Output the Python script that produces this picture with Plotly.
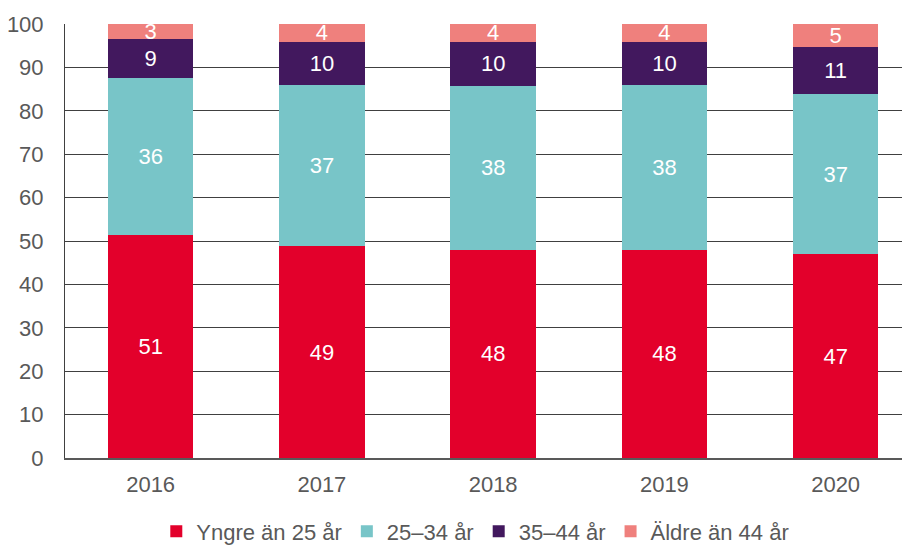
import plotly.graph_objects as go

years = ["2016", "2017", "2018", "2019", "2020"]
series_names = ["Yngre än 25 år", "25–34 år", "35–44 år", "Äldre än 44 år"]
yngre = [51.4, 48.8, 48.0, 48.0, 46.9]
mid1 = [36.2, 37.1, 37.8, 37.9, 37.0]
mid2 = [8.9, 10.0, 10.1, 10.0, 10.9]
aldre = [3.5, 4.1, 4.1, 4.1, 5.2]
labels = [
    [51, 49, 48, 48, 47],
    [36, 37, 38, 38, 37],
    [9, 10, 10, 10, 11],
    [3, 4, 4, 4, 5],
]
colors = ["#E3002B", "#78C5C8", "#42185E", "#EF807D"]
y_ticks = [0, 10, 20, 30, 40, 50, 60, 70, 80, 90, 100]

fig = go.Figure()
for name, vals, lab, col in zip(series_names, [yngre, mid1, mid2, aldre], labels, colors):
    fig.add_trace(go.Bar(
        x=years, y=vals, name=name, marker=dict(color=col, line=dict(width=0)),
        text=[str(v) for v in lab], textposition="inside", insidetextanchor="middle",
        textangle=0, constraintext="none",
        textfont=dict(color="white", size=22, family="Liberation Sans, Arial"),
        hoverinfo="skip",
    ))

fig.update_layout(
    barmode="stack",
    bargap=0.5,
    width=910, height=545,
    margin=dict(l=57, r=0, t=16, b=95, autoexpand=False),
    plot_bgcolor="white", paper_bgcolor="white",
    font=dict(family="Liberation Sans, Arial", size=22, color="#595959"),
    showlegend=True,
    legend=dict(orientation="h", x=0.481, xanchor="center", y=-0.1695, yanchor="middle",
                font=dict(size=22, color="#595959"), itemwidth=30, traceorder="normal"),
    xaxis=dict(range=[-0.5, 4.481], showgrid=False, showline=True, linecolor="#595959",
               linewidth=1.5, ticks="", ticklabelstandoff=6, automargin=False,
               tickfont=dict(size=22, color="#595959")),
    yaxis=dict(range=[0, 100], tickvals=y_ticks, showgrid=True, gridcolor="#404040", gridwidth=1,
               showline=True, linecolor="#404040", linewidth=1, zeroline=False, ticks="",
               ticklabelstandoff=16, automargin=False, tickfont=dict(size=22, color="#595959")),
)

fig.write_html("out.html")
